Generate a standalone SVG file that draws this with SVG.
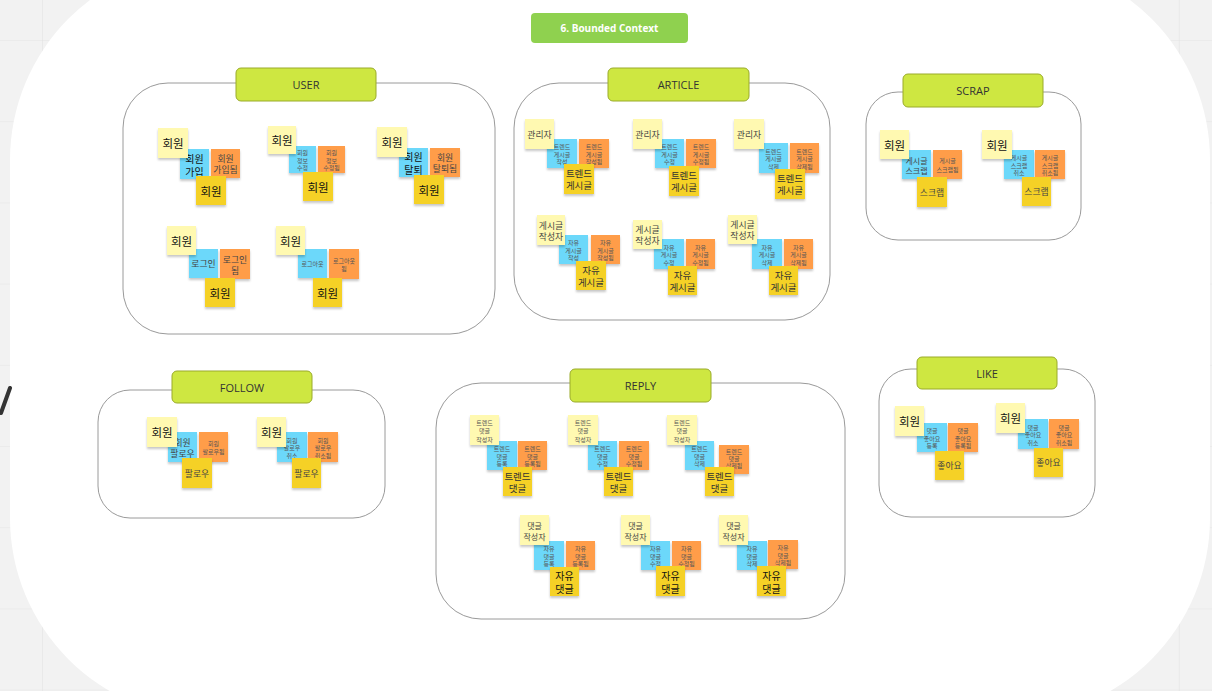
<svg xmlns="http://www.w3.org/2000/svg" width="1212" height="691" viewBox="0 0 1212 691">
<defs>
<pattern id="grid" width="81.2" height="81.2" patternUnits="userSpaceOnUse" x="42" y="40">
<path d="M0 0H81.2M0 0V81.2" stroke="#e3e3e3" stroke-width="1.2" fill="none"/>
</pattern>
<filter id="sh" x="-20%" y="-20%" width="140%" height="150%">
<feDropShadow dx="0" dy="2" stdDeviation="1.3" flood-color="#000" flood-opacity="0.22"/>
</filter>
</defs>
<style>
.st{filter:url(#sh)}
.p{fill:#fff9b1}
.b{fill:#6cd8fa}
.o{fill:#ff9d48}
.d{fill:#f5d128}
.box{fill:none;stroke:#9a9a9a;stroke-width:1}
.lb{fill:#cee741;stroke:#9aab2a;stroke-width:1}
.lt{font-family:"Open Sans","Noto Sans",sans-serif;font-size:11px;fill:#333;text-anchor:middle;dominant-baseline:central}
text.k{font-family:"Noto Sans CJK KR","Noto Sans",sans-serif;text-anchor:middle;dominant-baseline:central;fill:#444}
.f12{font-size:11.5px;fill:#111 !important}
.f11{font-size:10px;fill:#111 !important}
.f10{font-size:9.5px;fill:#333 !important}
.f9{font-size:8.8px}
.f8{font-size:8px}
.f6{font-size:6px;fill:#555 !important}
</style>
<rect width="1212" height="691" fill="#f2f2f2"/>
<rect width="1212" height="691" fill="url(#grid)"/>
<rect x="10" y="-40" width="1200" height="758" rx="200" fill="#ffffff"/>
<path d="M10 388L1 413" stroke="#333" stroke-width="4" stroke-linecap="round"/>

<g id="title">
<rect x="531" y="13" width="157" height="30" rx="4" fill="#8fd14f"/>
<text x="609.5" y="28" font-family="'Open Sans','Noto Sans',sans-serif" font-size="10" font-weight="bold" fill="#fff" text-anchor="middle" dominant-baseline="central">6. Bounded Context</text>
</g>

<g id="connectors"></g>

<!-- USER -->
<g id="ctx-user">
<rect class="box" x="123" y="83" width="372" height="251" rx="45"/>
<rect class="lb" x="236" y="68" width="140" height="33" rx="5"/>
<text class="lt" x="306" y="84.5">USER</text>
</g>
<g id="user-signup">
<rect class="st b" x="180" y="149" width="29" height="30"/>
<text class="k f11"><tspan x="194.5" y="157.5">회원</tspan><tspan x="194.5" y="170.5">가입</tspan></text>
<rect class="st o" x="211" y="149" width="29" height="29"/>
<text class="k f9"><tspan x="225.5" y="158">회원</tspan><tspan x="225.5" y="169">가입됨</tspan></text>
<rect class="st p" x="158" y="128" width="30" height="30"/>
<text class="k f12" x="173" y="143">회원</text>
<rect class="st d" x="196" y="176" width="30" height="29"/>
<text class="k f12" x="211" y="190.5">회원</text>
</g>
<g id="user-update">
<rect class="st b" x="289" y="146" width="27" height="27"/>
<text class="k f6"><tspan x="302.5" y="152">회원</tspan><tspan x="302.5" y="159.5">정보</tspan><tspan x="302.5" y="167">수정</tspan></text>
<rect class="st o" x="318" y="146" width="27" height="27"/>
<text class="k f6"><tspan x="331.5" y="152">회원</tspan><tspan x="331.5" y="159.5">정보</tspan><tspan x="331.5" y="167">수정됨</tspan></text>
<rect class="st p" x="268" y="126" width="28" height="28"/>
<text class="k f12" x="282" y="140">회원</text>
<rect class="st d" x="303" y="172" width="30" height="29"/>
<text class="k f12" x="318" y="186.5">회원</text>
</g>
<g id="user-withdraw">
<rect class="st b" x="399" y="148" width="29" height="29"/>
<text class="k f11"><tspan x="413.5" y="156">회원</tspan><tspan x="413.5" y="169">탈퇴</tspan></text>
<rect class="st o" x="430" y="148" width="30" height="29"/>
<text class="k f9"><tspan x="445" y="157">회원</tspan><tspan x="445" y="168">탈퇴됨</tspan></text>
<rect class="st p" x="377" y="127" width="30" height="30"/>
<text class="k f12" x="392" y="142">회원</text>
<rect class="st d" x="414" y="175" width="30" height="29"/>
<text class="k f12" x="429" y="189.5">회원</text>
</g>
<g id="user-login">
<rect class="st b" x="189" y="249" width="29" height="29"/>
<text class="k f9" x="203.5" y="263.5">로그인</text>
<rect class="st o" x="220" y="249" width="30" height="30"/>
<text class="k f9"><tspan x="235" y="258.5">로그인</tspan><tspan x="235" y="269.5">됨</tspan></text>
<rect class="st p" x="167" y="226" width="29" height="29"/>
<text class="k f12" x="181.5" y="240.5">회원</text>
<rect class="st d" x="205" y="278" width="30" height="29"/>
<text class="k f12" x="220" y="292.5">회원</text>
</g>
<g id="user-logout">
<rect class="st b" x="298" y="249" width="29" height="29"/>
<text class="k f6" x="312.5" y="263.5">로그아웃</text>
<rect class="st o" x="329" y="249" width="30" height="30"/>
<text class="k f6"><tspan x="344" y="260">로그아웃</tspan><tspan x="344" y="268">됨</tspan></text>
<rect class="st p" x="276" y="226" width="29" height="29"/>
<text class="k f12" x="290.5" y="240.5">회원</text>
<rect class="st d" x="313" y="278" width="29" height="29"/>
<text class="k f12" x="327.5" y="292.5">회원</text>
</g>

<!-- ARTICLE -->
<g id="ctx-article">
<rect class="box" x="514" y="83" width="316" height="237" rx="45"/>
<rect class="lb" x="608" y="68" width="141" height="33" rx="5"/>
<text class="lt" x="678.5" y="84.5">ARTICLE</text>
</g>
<g id="article-trend-create">
<rect class="st b" x="547" y="139" width="30" height="29"/>
<text class="k f6"><tspan x="562" y="146">트렌드</tspan><tspan x="562" y="153.5">게시글</tspan><tspan x="562" y="161">작성</tspan></text>
<rect class="st o" x="579" y="139" width="30" height="29"/>
<text class="k f6"><tspan x="594" y="146">트렌드</tspan><tspan x="594" y="153.5">게시글</tspan><tspan x="594" y="161">작성됨</tspan></text>
<rect class="st p" x="525" y="119" width="29" height="30"/>
<text class="k f9" x="539.5" y="134">관리자</text>
<rect class="st d" x="564" y="164" width="30" height="30"/>
<text class="k f10"><tspan x="579" y="173">트렌드</tspan><tspan x="579" y="185">게시글</tspan></text>
</g>
<g id="article-trend-update">
<rect class="st b" x="655" y="139" width="29" height="29"/>
<text class="k f6"><tspan x="669.5" y="146">트렌드</tspan><tspan x="669.5" y="153.5">게시글</tspan><tspan x="669.5" y="161">수정</tspan></text>
<rect class="st o" x="686" y="139" width="30" height="29"/>
<text class="k f6"><tspan x="701" y="146">트렌드</tspan><tspan x="701" y="153.5">게시글</tspan><tspan x="701" y="161">수정됨</tspan></text>
<rect class="st p" x="633" y="119" width="29" height="30"/>
<text class="k f9" x="647.5" y="134">관리자</text>
<rect class="st d" x="669" y="166" width="30" height="30"/>
<text class="k f10"><tspan x="684" y="175">트렌드</tspan><tspan x="684" y="187">게시글</tspan></text>
</g>
<g id="article-trend-delete">
<rect class="st b" x="759" y="143" width="29" height="30"/>
<text class="k f6"><tspan x="773.5" y="150.5">트렌드</tspan><tspan x="773.5" y="158">게시글</tspan><tspan x="773.5" y="165.5">삭제</tspan></text>
<rect class="st o" x="790" y="143" width="29" height="30"/>
<text class="k f6"><tspan x="804.5" y="150.5">트렌드</tspan><tspan x="804.5" y="158">게시글</tspan><tspan x="804.5" y="165.5">삭제됨</tspan></text>
<rect class="st p" x="734" y="119" width="30" height="30"/>
<text class="k f9" x="749" y="134">관리자</text>
<rect class="st d" x="775" y="169" width="30" height="30"/>
<text class="k f10"><tspan x="790" y="178">트렌드</tspan><tspan x="790" y="190">게시글</tspan></text>
</g>
<g id="article-free-create">
<rect class="st b" x="559" y="235" width="29" height="29"/>
<text class="k f6"><tspan x="573.5" y="242">자유</tspan><tspan x="573.5" y="249.5">게시글</tspan><tspan x="573.5" y="257">작성</tspan></text>
<rect class="st o" x="591" y="235" width="29" height="29"/>
<text class="k f6"><tspan x="605.5" y="242">자유</tspan><tspan x="605.5" y="249.5">게시글</tspan><tspan x="605.5" y="257">작성됨</tspan></text>
<rect class="st p" x="537" y="215" width="28" height="30"/>
<text class="k f9"><tspan x="551" y="224.5">게시글</tspan><tspan x="551" y="235.5">작성자</tspan></text>
<rect class="st d" x="576" y="261" width="30" height="29"/>
<text class="k f10"><tspan x="591" y="269.5">자유</tspan><tspan x="591" y="281.5">게시글</tspan></text>
</g>
<g id="article-free-update">
<rect class="st b" x="654" y="239" width="30" height="30"/>
<text class="k f6"><tspan x="669" y="246.5">자유</tspan><tspan x="669" y="254">게시글</tspan><tspan x="669" y="261.5">수정</tspan></text>
<rect class="st o" x="686" y="239" width="29" height="30"/>
<text class="k f6"><tspan x="700.5" y="246.5">자유</tspan><tspan x="700.5" y="254">게시글</tspan><tspan x="700.5" y="261.5">수정됨</tspan></text>
<rect class="st p" x="633" y="220" width="29" height="29"/>
<text class="k f9"><tspan x="647.5" y="229">게시글</tspan><tspan x="647.5" y="240">작성자</tspan></text>
<rect class="st d" x="668" y="266" width="29" height="29"/>
<text class="k f10"><tspan x="682.5" y="274.5">자유</tspan><tspan x="682.5" y="286.5">게시글</tspan></text>
</g>
<g id="article-free-delete">
<rect class="st b" x="752" y="239" width="30" height="30"/>
<text class="k f6"><tspan x="767" y="246.5">자유</tspan><tspan x="767" y="254">게시글</tspan><tspan x="767" y="261.5">삭제</tspan></text>
<rect class="st o" x="784" y="239" width="29" height="30"/>
<text class="k f6"><tspan x="798.5" y="246.5">자유</tspan><tspan x="798.5" y="254">게시글</tspan><tspan x="798.5" y="261.5">삭제됨</tspan></text>
<rect class="st p" x="728" y="215" width="29" height="29"/>
<text class="k f9"><tspan x="742.5" y="224">게시글</tspan><tspan x="742.5" y="235">작성자</tspan></text>
<rect class="st d" x="769" y="266" width="29" height="29"/>
<text class="k f10"><tspan x="783.5" y="274.5">자유</tspan><tspan x="783.5" y="286.5">게시글</tspan></text>
</g>

<!-- SCRAP -->
<g id="ctx-scrap">
<rect class="box" x="866" y="92" width="215" height="148" rx="32"/>
<rect class="lb" x="903" y="74" width="140" height="33" rx="5"/>
<text class="lt" x="973" y="90.5">SCRAP</text>
</g>
<g id="scrap-add">
<rect class="st b" x="902" y="150" width="29" height="29"/>
<text class="k f8"><tspan x="916.5" y="159.5">게시글</tspan><tspan x="916.5" y="169.5">스크랩</tspan></text>
<rect class="st o" x="933" y="150" width="29" height="29"/>
<text class="k f6"><tspan x="947.5" y="160">게시글</tspan><tspan x="947.5" y="169">스크랩됨</tspan></text>
<rect class="st p" x="880" y="130" width="29" height="29"/>
<text class="k f12" x="894.5" y="144.5">회원</text>
<rect class="st d" x="917" y="177" width="30" height="30"/>
<text class="k f9" x="932" y="192">스크랩</text>
</g>
<g id="scrap-cancel">
<rect class="st b" x="1004" y="150" width="30" height="29"/>
<text class="k f6"><tspan x="1019" y="157">게시글</tspan><tspan x="1019" y="164.5">스크랩</tspan><tspan x="1019" y="172">취소</tspan></text>
<rect class="st o" x="1035" y="150" width="30" height="29"/>
<text class="k f6"><tspan x="1050" y="157">게시글</tspan><tspan x="1050" y="164.5">스크랩</tspan><tspan x="1050" y="172">취소됨</tspan></text>
<rect class="st p" x="982" y="130" width="30" height="29"/>
<text class="k f12" x="997" y="144.5">회원</text>
<rect class="st d" x="1022" y="177" width="29" height="29"/>
<text class="k f9" x="1036.5" y="191.5">스크랩</text>
</g>

<!-- FOLLOW -->
<g id="ctx-follow">
<rect class="box" x="98" y="390" width="287" height="128" rx="32"/>
<rect class="lb" x="172" y="371" width="140" height="32" rx="5"/>
<text class="lt" x="242" y="387">FOLLOW</text>
</g>
<g id="follow-add">
<rect class="st b" x="168" y="432" width="29" height="30"/>
<text class="k f9"><tspan x="182.5" y="441.5">회원</tspan><tspan x="182.5" y="452.5">팔로우</tspan></text>
<rect class="st o" x="199" y="432" width="29" height="30"/>
<text class="k f6"><tspan x="213.5" y="443">회원</tspan><tspan x="213.5" y="451">팔로우됨</tspan></text>
<rect class="st p" x="147" y="417" width="30" height="30"/>
<text class="k f12" x="162" y="432">회원</text>
<rect class="st d" x="182" y="458" width="30" height="30"/>
<text class="k f9" x="197" y="473">팔로우</text>
</g>
<g id="follow-cancel">
<rect class="st b" x="277" y="432" width="30" height="30"/>
<text class="k f6"><tspan x="292" y="439.5">회원</tspan><tspan x="292" y="447">팔로우</tspan><tspan x="292" y="454.5">취소</tspan></text>
<rect class="st o" x="308" y="432" width="30" height="30"/>
<text class="k f6"><tspan x="323" y="439.5">회원</tspan><tspan x="323" y="447">팔로우</tspan><tspan x="323" y="454.5">취소됨</tspan></text>
<rect class="st p" x="257" y="417" width="29" height="30"/>
<text class="k f12" x="271.5" y="432">회원</text>
<rect class="st d" x="292" y="458" width="29" height="30"/>
<text class="k f9" x="306.5" y="473">팔로우</text>
</g>

<!-- REPLY -->
<g id="ctx-reply">
<rect class="box" x="436" y="383" width="409" height="236" rx="45"/>
<rect class="lb" x="570" y="369" width="141" height="33" rx="5"/>
<text class="lt" x="640.5" y="385.5">REPLY</text>
</g>
<g id="reply-trend-create">
<rect class="st b" x="487" y="441" width="30" height="29"/>
<text class="k f6"><tspan x="502" y="448">트렌드</tspan><tspan x="502" y="455.5">댓글</tspan><tspan x="502" y="463">등록</tspan></text>
<rect class="st o" x="518" y="441" width="29" height="29"/>
<text class="k f6"><tspan x="532.5" y="448">트렌드</tspan><tspan x="532.5" y="455.5">댓글</tspan><tspan x="532.5" y="463">등록됨</tspan></text>
<rect class="st p" x="470" y="415" width="29" height="30"/>
<text class="k f6"><tspan x="484.5" y="421.5">트렌드</tspan><tspan x="484.5" y="430">댓글</tspan><tspan x="484.5" y="438.5">작성자</tspan></text>
<rect class="st d" x="503" y="467" width="29" height="29"/>
<text class="k f10"><tspan x="517.5" y="475.5">트렌드</tspan><tspan x="517.5" y="487.5">댓글</tspan></text>
</g>
<g id="reply-trend-update">
<rect class="st b" x="588" y="441" width="29" height="29"/>
<text class="k f6"><tspan x="602.5" y="448">트렌드</tspan><tspan x="602.5" y="455.5">댓글</tspan><tspan x="602.5" y="463">수정</tspan></text>
<rect class="st o" x="619" y="441" width="30" height="29"/>
<text class="k f6"><tspan x="634" y="448">트렌드</tspan><tspan x="634" y="455.5">댓글</tspan><tspan x="634" y="463">수정됨</tspan></text>
<rect class="st p" x="568" y="415" width="30" height="30"/>
<text class="k f6"><tspan x="583" y="421.5">트렌드</tspan><tspan x="583" y="430">댓글</tspan><tspan x="583" y="438.5">작성자</tspan></text>
<rect class="st d" x="604" y="467" width="29" height="29"/>
<text class="k f10"><tspan x="618.5" y="475.5">트렌드</tspan><tspan x="618.5" y="487.5">댓글</tspan></text>
</g>
<g id="reply-trend-delete">
<rect class="st b" x="685" y="441" width="29" height="29"/>
<text class="k f6"><tspan x="699.5" y="448">트렌드</tspan><tspan x="699.5" y="455.5">댓글</tspan><tspan x="699.5" y="463">삭제</tspan></text>
<rect class="st o" x="719" y="445" width="30" height="29"/>
<text class="k f6"><tspan x="734" y="450.5">트렌드</tspan><tspan x="734" y="457.5">댓글</tspan><tspan x="734" y="464.5">삭제됨</tspan></text>
<rect class="st p" x="667" y="415" width="30" height="30"/>
<text class="k f6"><tspan x="682" y="421.5">트렌드</tspan><tspan x="682" y="430">댓글</tspan><tspan x="682" y="438.5">작성자</tspan></text>
<rect class="st d" x="705" y="467" width="29" height="29"/>
<text class="k f10"><tspan x="719.5" y="476">트렌드</tspan><tspan x="719.5" y="488">댓글</tspan></text>
</g>
<g id="reply-free-create">
<rect class="st b" x="534" y="541" width="30" height="29"/>
<text class="k f6"><tspan x="549" y="548">자유</tspan><tspan x="549" y="555.5">댓글</tspan><tspan x="549" y="563">등록</tspan></text>
<rect class="st o" x="566" y="541" width="29" height="29"/>
<text class="k f6"><tspan x="580.5" y="548">자유</tspan><tspan x="580.5" y="555.5">댓글</tspan><tspan x="580.5" y="563">등록됨</tspan></text>
<rect class="st p" x="520" y="515" width="29" height="30"/>
<text class="k f8"><tspan x="534.5" y="524.5">댓글</tspan><tspan x="534.5" y="535.5">작성자</tspan></text>
<rect class="st d" x="550" y="567" width="29" height="29"/>
<text class="k f11"><tspan x="564.5" y="575">자유</tspan><tspan x="564.5" y="588">댓글</tspan></text>
</g>
<g id="reply-free-update">
<rect class="st b" x="641" y="541" width="29" height="29"/>
<text class="k f6"><tspan x="655.5" y="548">자유</tspan><tspan x="655.5" y="555.5">댓글</tspan><tspan x="655.5" y="563">수정</tspan></text>
<rect class="st o" x="672" y="541" width="29" height="29"/>
<text class="k f6"><tspan x="686.5" y="548">자유</tspan><tspan x="686.5" y="555.5">댓글</tspan><tspan x="686.5" y="563">수정됨</tspan></text>
<rect class="st p" x="621" y="515" width="29" height="30"/>
<text class="k f8"><tspan x="635.5" y="524.5">댓글</tspan><tspan x="635.5" y="535.5">작성자</tspan></text>
<rect class="st d" x="656" y="566" width="29" height="30"/>
<text class="k f11"><tspan x="670.5" y="574.5">자유</tspan><tspan x="670.5" y="587.5">댓글</tspan></text>
</g>
<g id="reply-free-delete">
<rect class="st b" x="737" y="541" width="30" height="29"/>
<text class="k f6"><tspan x="752" y="548">자유</tspan><tspan x="752" y="555.5">댓글</tspan><tspan x="752" y="563">삭제</tspan></text>
<rect class="st o" x="768" y="540" width="30" height="29"/>
<text class="k f6"><tspan x="783" y="547">자유</tspan><tspan x="783" y="554.5">댓글</tspan><tspan x="783" y="562">삭제됨</tspan></text>
<rect class="st p" x="719" y="515" width="29" height="30"/>
<text class="k f8"><tspan x="733.5" y="524.5">댓글</tspan><tspan x="733.5" y="535.5">작성자</tspan></text>
<rect class="st d" x="757" y="566" width="29" height="30"/>
<text class="k f11"><tspan x="771.5" y="574.5">자유</tspan><tspan x="771.5" y="587.5">댓글</tspan></text>
</g>

<!-- LIKE -->
<g id="ctx-like">
<rect class="box" x="879" y="369" width="216" height="148" rx="32"/>
<rect class="lb" x="917" y="357" width="140" height="32" rx="5"/>
<text class="lt" x="987" y="373">LIKE</text>
</g>
<g id="like-add">
<rect class="st b" x="917" y="423" width="30" height="29"/>
<text class="k f6"><tspan x="932" y="430">댓글</tspan><tspan x="932" y="437.5">좋아요</tspan><tspan x="932" y="445">등록</tspan></text>
<rect class="st o" x="948" y="423" width="30" height="29"/>
<text class="k f6"><tspan x="963" y="430">댓글</tspan><tspan x="963" y="437.5">좋아요</tspan><tspan x="963" y="445">등록됨</tspan></text>
<rect class="st p" x="895" y="406" width="29" height="30"/>
<text class="k f12" x="909.5" y="421">회원</text>
<rect class="st d" x="935" y="451" width="29" height="29"/>
<text class="k f9" x="949.5" y="465.5">좋아요</text>
</g>
<g id="like-cancel">
<rect class="st b" x="1018" y="419" width="30" height="30"/>
<text class="k f6"><tspan x="1033" y="426.5">댓글</tspan><tspan x="1033" y="434">좋아요</tspan><tspan x="1033" y="441.5">취소</tspan></text>
<rect class="st o" x="1049" y="419" width="30" height="30"/>
<text class="k f6"><tspan x="1064" y="426.5">댓글</tspan><tspan x="1064" y="434">좋아요</tspan><tspan x="1064" y="441.5">취소됨</tspan></text>
<rect class="st p" x="996" y="403" width="29" height="30"/>
<text class="k f12" x="1010.5" y="418">회원</text>
<rect class="st d" x="1034" y="448" width="29" height="29"/>
<text class="k f9" x="1048.5" y="462.5">좋아요</text>
</g>
</svg>
